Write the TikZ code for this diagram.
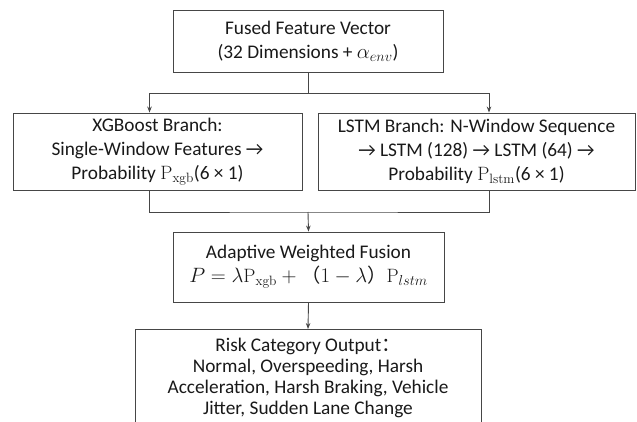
\documentclass[tikz,border=0pt]{standalone}
\usepackage{fontspec}
\setmainfont{Carlito}
\setmathrm{Latin Modern Roman}
\newfontfamily\cjk{Noto Sans CJK SC}
\usetikzlibrary{arrows.meta, positioning}

\definecolor{linegray}{RGB}{70,70,70}
\definecolor{textdark}{RGB}{25,25,25}

\begin{document}
\begin{tikzpicture}[
            x = 1pt,
            y = -1pt,
            > = {Stealth[length = 6pt, width = 4.5pt]},
            block/.style = {draw = linegray, line width = 0.9pt, rectangle, align = center,
                            inner sep = 4pt, text = textdark,
                            font = \fontsize{19.3}{24}\selectfont},
            link/.style = {draw = linegray, line width = 0.9pt}
        ]
        \useasboundingbox (0,0) rectangle (637,421);

        \node[block, minimum width = 270pt, minimum height = 62pt] (fused) at (308,41)
            {Fused Feature Vector\\(32 Dimensions + $\alpha_{env}$)};
        \node[block, minimum width = 289pt, minimum height = 77pt] (xgb) at (157.5,151.5)
            {XGBoost Branch:\\Single-Window Features →\\Probability $\mathrm{P_{xgb}}$(6 × 1)};
        \node[block, minimum width = 317pt, minimum height = 77pt] (lstm) at (476.5,151.5)
            {LSTM Branch: N-Window Sequence\\→ LSTM (128) → LSTM (64) →\\Probability $\mathrm{P_{lstm}}$(6 × 1)};
        \node[block, minimum width = 271pt, minimum height = 70pt] (fusion) at (308.5,267)
            {Adaptive Weighted Fusion\\$P = \lambda\mathrm{P_{xgb}} + {}${\cjk （}$1 - \lambda${\cjk ）}$\mathrm{P}_{lstm}$};
        \node[block, minimum width = 346pt, anchor = north, inner ysep = 9pt,
              font = \fontsize{19.3}{21}\selectfont] (output) at (308,329)
            {Risk Category Output{\cjk ：}\\Normal, Overspeeding, Harsh\\Acceleration, Harsh Braking, Vehicle\\Jitter, Sudden Lane Change};

        % split and merge points
        \coordinate (split) at (308,93);
        \coordinate (merge) at (308,212);

        \path[link] (fused.south) -- (split);
        \path[link, ->] (split) -| ([xshift = -8pt]xgb.north);
        \path[link, ->] (split) -| ([xshift = 12.5pt]lstm.north);
        \path[link] ([xshift = -8pt]xgb.south) |- (merge) -| ([xshift = 12.5pt]lstm.south);
        \path[link, ->] (merge) -- (fusion.north);
        \path[link, ->] (fusion.south) -- (output.north);
    \end{tikzpicture}
\end{document}
